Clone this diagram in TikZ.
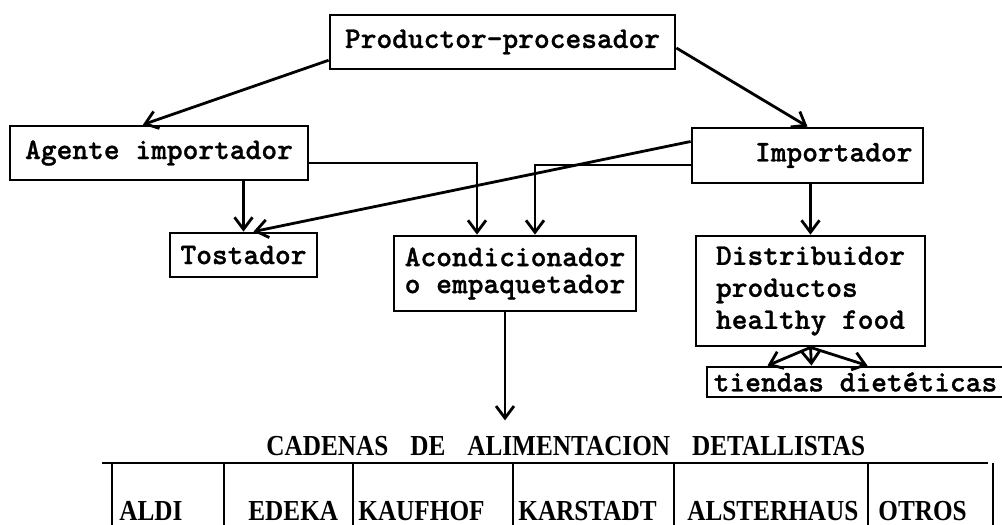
\documentclass[tikz,border=0pt]{standalone}
\usepackage{fontspec}
\usetikzlibrary{arrows.meta}
\newfontfamily\typewr[Extension=.otf, FakeBold=1]{lmmonolt10-bold}
\newfontfamily\tabfont[FakeStretch=0.87]{Liberation Serif}
\begin{document}
\begin{tikzpicture}[x=0.5pt, y=-0.5pt, line width=1.4pt,
    box/.style={draw, inner sep=0pt, font=\typewr\fontsize{15}{15}\selectfont},
    arr/.style={-{Straight Barb[length=6pt, width=9pt]}},
    cell/.style={anchor=base west, inner sep=0pt, font=\tabfont\bfseries\fontsize{14.5}{16}\selectfont}]
    \useasboundingbox (0,0) rectangle (1002,525);
    \node[box, minimum width=172.5pt, minimum height=27pt] (prod) at (502.5,42) {Productor-procesador};
    \node[box, minimum width=149pt, minimum height=27pt] (agente) at (159,153) {Agente importador};
    \node[box, minimum width=115.5pt, minimum height=27.5pt, text width=105pt, align=right] (imp) at (807.5,155.5) {Importador};
    \node[box, minimum width=73.5pt, minimum height=22pt] (tost) at (243.5,255) {Tostador};
    \node[box, minimum width=121pt, minimum height=37.5pt, align=left,
        font=\typewr\fontsize{15}{13.5}\selectfont] (acond) at (515,273.5) {Acondicionador\\o empaquetador};
    \node[box, minimum width=114.5pt, minimum height=55pt, align=left,
        font=\typewr\fontsize{15}{16}\selectfont] (dist) at (810.5,291) {Distribuidor\\productos\\healthy food};
    \node[box, minimum width=148.5pt, minimum height=15pt] (tiend) at (855.5,382) {tiendas diet\'eticas};
    \node[cell, inner ysep=7pt] (cad) at (265,455) {CADENAS\hspace{11pt}DE\hspace{11pt}ALIMENTACION\hspace{11pt}DETALLISTAS};
    \draw[arr] (prod.186) -- ([xshift=-8pt]agente.north);
    \draw[arr] ([yshift=-3pt]prod.east) -- (imp.north);
    \draw[arr] (agente.south -| tost.north) -- (tost.north);
    \draw[arr] ([yshift=7pt]imp.west) -- ([xshift=5pt]tost.north);
    \draw[arr] ([yshift=-5pt]agente.east) -| ([xshift=-19pt]acond.north);
    \draw[arr] ([yshift=-4.75pt]imp.west) -| ([xshift=10pt]acond.north);
    \draw[arr] (imp.south -| dist.north) -- (dist.north);
    \draw[arr] (dist.south) -- ([xshift=-44pt]tiend.north);
    \draw[arr] (dist.south) -- ([xshift=-22pt]tiend.north);
    \draw[arr] (dist.south) -- ([xshift=6pt]tiend.north);
    \draw[arr] ([xshift=-5pt]acond.south) -- ([xshift=-5pt]acond.south |- cad.north);
    \draw (102,463) -- (988,463);
    \foreach \x in {112,224,353,513,674,868,993}
        \draw (\x,463) -- (\x,527);
    \node[cell] (aldi) at (118,520) {ALDI};
    \node[cell] (edeka) at (247,520) {EDEKA};
    \node[cell] (kaufhof) at (357,520) {KAUFHOF};
    \node[cell] (karstadt) at (517,520) {KARSTADT};
    \node[cell] (alster) at (686,520) {ALSTERHAUS};
    \node[cell] (otros) at (877,520) {OTROS};
\end{tikzpicture}
\end{document}
